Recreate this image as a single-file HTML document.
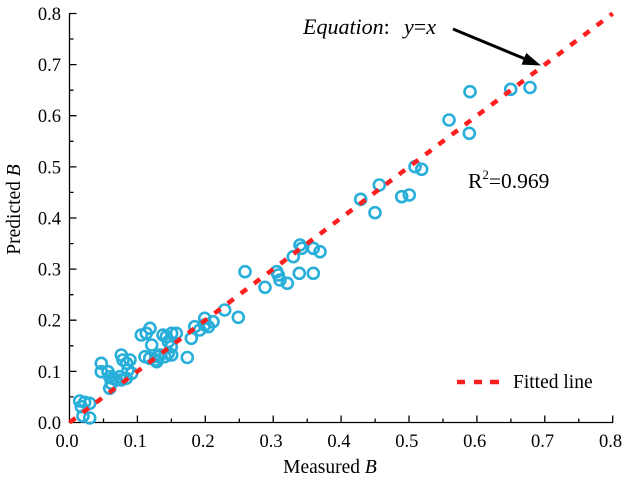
<!DOCTYPE html>
<html>
<head>
<meta charset="utf-8">
<style>
html,body{margin:0;padding:0;background:#fff;}
svg{display:block;}
text{font-family:"Liberation Serif",serif;fill:#000;}
</style>
</head>
<body>
<svg width="632" height="481" viewBox="0 0 632 481" xmlns="http://www.w3.org/2000/svg">
<g stroke="#000" stroke-width="1.3" fill="none">
<line x1="69.5" y1="13" x2="69.5" y2="423"/>
<line x1="69" y1="422.5" x2="613" y2="422.5"/>
<path d="M69.5 13.5h7M69.5 64.6h7M69.5 115.7h7M69.5 166.9h7M69.5 218h7M69.5 269.1h7M69.5 320.2h7M69.5 371.4h7"/>
<path d="M69.5 39h4M69.5 90.2h4M69.5 141.3h4M69.5 192.4h4M69.5 243.6h4M69.5 294.7h4M69.5 345.8h4M69.5 396.9h4"/>
<path d="M137.4 422.5v-7M205.3 422.5v-7M273.2 422.5v-7M341.1 422.5v-7M409 422.5v-7M476.9 422.5v-7M544.8 422.5v-7M612.7 422.5v-7"/>
<path d="M103.5 422.5v-4M171.4 422.5v-4M239.3 422.5v-4M307.2 422.5v-4M375.1 422.5v-4M443 422.5v-4M510.9 422.5v-4M578.8 422.5v-4"/>
</g>
<g font-size="18.5" text-anchor="end">
<text x="61" y="429">0.0</text>
<text x="61" y="377.9">0.1</text>
<text x="61" y="326.7">0.2</text>
<text x="61" y="275.6">0.3</text>
<text x="61" y="224.5">0.4</text>
<text x="61" y="173.4">0.5</text>
<text x="61" y="122.2">0.6</text>
<text x="61" y="71.1">0.7</text>
<text x="61" y="20">0.8</text>
</g>
<g font-size="18.5" text-anchor="middle">
<text x="67" y="447">0.0</text>
<text x="135.2" y="447">0.1</text>
<text x="203.1" y="447">0.2</text>
<text x="271" y="447">0.3</text>
<text x="338.9" y="447">0.4</text>
<text x="406.8" y="447">0.5</text>
<text x="474.7" y="447">0.6</text>
<text x="542.6" y="447">0.7</text>
<text x="610.5" y="447">0.8</text>
</g>
<text x="330" y="473" font-size="19.5" text-anchor="middle">Measured <tspan font-style="italic">B</tspan></text>
<text transform="translate(20,209.5) rotate(-90)" font-size="19.5" text-anchor="middle">Predicted <tspan font-style="italic">B</tspan></text>
<g fill="none" stroke="#27AFDA" stroke-width="2.6">
<circle cx="530" cy="87.5" r="5.5"/>
<circle cx="510.7" cy="89.3" r="5.5"/>
<circle cx="470" cy="91.7" r="5.5"/>
<circle cx="449" cy="120" r="5.5"/>
<circle cx="469.3" cy="133.3" r="5.5"/>
<circle cx="415" cy="166.7" r="5.5"/>
<circle cx="421.7" cy="169.3" r="5.5"/>
<circle cx="379.3" cy="185" r="5.5"/>
<circle cx="360.7" cy="199.3" r="5.5"/>
<circle cx="375" cy="212.7" r="5.5"/>
<circle cx="401.7" cy="196.7" r="5.5"/>
<circle cx="409.3" cy="195" r="5.5"/>
<circle cx="245" cy="271.7" r="5.5"/>
<circle cx="265" cy="287.3" r="5.5"/>
<circle cx="276.7" cy="271.7" r="5.5"/>
<circle cx="278.3" cy="275" r="5.5"/>
<circle cx="280" cy="280" r="5.5"/>
<circle cx="287.3" cy="283.3" r="5.5"/>
<circle cx="299.3" cy="273.3" r="5.5"/>
<circle cx="313.3" cy="273.3" r="5.5"/>
<circle cx="293.3" cy="256.7" r="5.5"/>
<circle cx="300" cy="245" r="5.5"/>
<circle cx="301.7" cy="248.3" r="5.5"/>
<circle cx="313.3" cy="248.3" r="5.5"/>
<circle cx="320" cy="251.7" r="5.5"/>
<circle cx="238.3" cy="317.3" r="5.5"/>
<circle cx="224.7" cy="310" r="5.5"/>
<circle cx="213" cy="321.7" r="5.5"/>
<circle cx="204.7" cy="318.3" r="5.5"/>
<circle cx="204.7" cy="325" r="5.5"/>
<circle cx="208.3" cy="326.7" r="5.5"/>
<circle cx="199.7" cy="330" r="5.5"/>
<circle cx="194.7" cy="326.7" r="5.5"/>
<circle cx="191.3" cy="338.3" r="5.5"/>
<circle cx="187.3" cy="357.5" r="5.5"/>
<circle cx="176.3" cy="333.3" r="5.5"/>
<circle cx="171.7" cy="333.3" r="5.5"/>
<circle cx="166.3" cy="336.7" r="5.5"/>
<circle cx="163" cy="335" r="5.5"/>
<circle cx="168.3" cy="341.7" r="5.5"/>
<circle cx="171.3" cy="346.7" r="5.5"/>
<circle cx="150" cy="328.3" r="5.5"/>
<circle cx="146.3" cy="333.3" r="5.5"/>
<circle cx="141.3" cy="335" r="5.5"/>
<circle cx="151.7" cy="345" r="5.5"/>
<circle cx="145" cy="356.7" r="5.5"/>
<circle cx="149.7" cy="358.3" r="5.5"/>
<circle cx="156.3" cy="360" r="5.5"/>
<circle cx="158" cy="356.7" r="5.5"/>
<circle cx="160" cy="355" r="5.5"/>
<circle cx="164.7" cy="356.7" r="5.5"/>
<circle cx="168.3" cy="353.3" r="5.5"/>
<circle cx="171.7" cy="355" r="5.5"/>
<circle cx="156.7" cy="361.7" r="5.5"/>
<circle cx="130" cy="360" r="5.5"/>
<circle cx="126.7" cy="363.3" r="5.5"/>
<circle cx="128" cy="370" r="5.5"/>
<circle cx="131.7" cy="373.3" r="5.5"/>
<circle cx="121.3" cy="355" r="5.5"/>
<circle cx="123" cy="360" r="5.5"/>
<circle cx="101.3" cy="363.3" r="5.5"/>
<circle cx="101.3" cy="371.7" r="5.5"/>
<circle cx="108" cy="371.7" r="5.5"/>
<circle cx="109.7" cy="376.7" r="5.5"/>
<circle cx="113" cy="378.3" r="5.5"/>
<circle cx="116.3" cy="380" r="5.5"/>
<circle cx="119.7" cy="376.7" r="5.5"/>
<circle cx="121.3" cy="380" r="5.5"/>
<circle cx="126.3" cy="378.3" r="5.5"/>
<circle cx="111.3" cy="383.3" r="5.5"/>
<circle cx="109.7" cy="388.3" r="5.5"/>
<circle cx="79.7" cy="401" r="5.5"/>
<circle cx="84.7" cy="402.3" r="5.5"/>
<circle cx="89.7" cy="403.3" r="5.5"/>
<circle cx="81.3" cy="406.7" r="5.5"/>
<circle cx="83" cy="416" r="5.5"/>
<circle cx="89.7" cy="418" r="5.5"/>
</g>
<line x1="69.5" y1="422.5" x2="612.7" y2="13.5" stroke="#FF1F1F" stroke-width="4.5" stroke-dasharray="7.5 9"/>
<g stroke="#FF1F1F" stroke-width="4.5">
<line x1="457" y1="382" x2="465" y2="382"/>
<line x1="474" y1="382" x2="482" y2="382"/>
<line x1="490" y1="382" x2="499" y2="382"/>
</g>
<text x="513" y="388" font-size="19.5">Fitted line</text>
<text x="303" y="34" font-size="22" font-style="italic">Equation<tspan font-style="normal">:</tspan></text>
<text x="404" y="34" font-size="22" font-style="italic">y<tspan font-style="normal">=</tspan>x</text>
<line x1="453" y1="29" x2="526" y2="59.3" stroke="#000" stroke-width="3"/>
<polygon points="541,65.5 521.5,64.6 526.3,53" fill="#000"/>
<text x="468" y="188" font-size="21.5">R<tspan font-size="13" dy="-9">2</tspan><tspan dy="9">=0.969</tspan></text>
</svg>
</body>
</html>
